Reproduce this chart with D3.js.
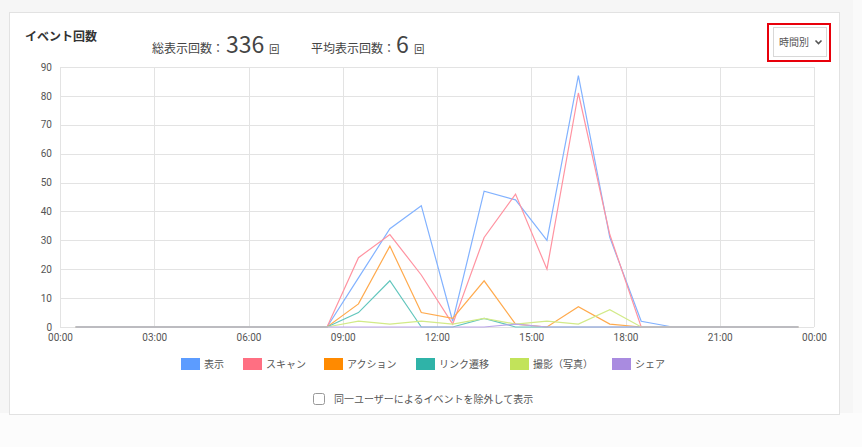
<!DOCTYPE html>
<html>
<head>
<meta charset="utf-8">
<script src="https://cdn.jsdelivr.net/npm/d3@7"></script>
<style>
  body { margin: 0; background: #f6f6f6; font-family: "Noto Sans CJK JP", "Noto Sans", sans-serif; }
  svg { display: block; }
</style>
</head>
<body>
<svg id="chart"></svg>
<script>
// hourly counts, 00時..23時
const hours = d3.range(24);
const seriesNames = ["表示", "スキャン", "アクション", "リンク遷移", "撮影（写真）", "シェア"];
const colors = ["#5c9cff", "#ff6f82", "#ff8a00", "#2fb3a8", "#c2e35a", "#a98be0"];
const lineColors = ["#82b2ff", "#ff93a1", "#ffaa4d", "#62c6bd", "#d2ea88", "#bba6ea"];

const views    = [0,0,0,0,0,0,0,0,0,17,34,42,2,47,44,30,87,31,2,0,0,0,0,0];
const scans    = [0,0,0,0,0,0,0,0,0,24,32,18,1,31,46,20,81,32,0,0,0,0,0,0];
const actions  = [0,0,0,0,0,0,0,0,0,8,28,5,3,16,1,0,7,1,0,0,0,0,0,0];
const links    = [0,0,0,0,0,0,0,0,0,5,16,0,0,3,0,0,0,0,0,0,0,0,0,0];
const photos   = [0,0,0,0,0,0,0,0,0,2,1,2,1,3,1,2,1,6,0,0,0,0,0,0];
const shares   = [0,0,0,0,0,0,0,0,0,0,0,0,0,0,1,0,0,0,0,0,0,0,0,0];
const seriesValues = [views, scans, actions, links, photos, shares];

const yTicks = [0, 10, 20, 30, 40, 50, 60, 70, 80, 90];
const xTicks = [0, 3, 6, 9, 12, 15, 18, 21, 24];
const xTickLabels = ["00:00", "03:00", "06:00", "09:00", "12:00", "15:00", "18:00", "21:00", "00:00"];

const W = 862, H = 447;
const svg = d3.select("#chart").attr("width", W).attr("height", H);

// page background pieces
svg.append("rect").attr("x", 0).attr("y", 413).attr("width", W).attr("height", H - 413).attr("fill", "#fcfcfc");
svg.append("rect").attr("x", 853).attr("y", 0).attr("width", 9).attr("height", 413).attr("fill", "#fafafa");

// card
svg.append("rect")
  .attr("x", 9.5).attr("y", 12.5).attr("width", 830).attr("height", 402)
  .attr("fill", "#fff").attr("stroke", "#e2e2e2");

// header texts
svg.append("text").attr("x", 25).attr("y", 41)
  .attr("font-size", 12).attr("font-weight", "bold").attr("fill", "#333")
  .text("イベント回数");

const summary = svg.append("text").attr("y", 53).attr("fill", "#444");
summary.append("tspan").attr("x", 152).attr("font-size", 12).text("総表示回数：");
summary.append("tspan").attr("x", 226).attr("font-size", 23).text("336");
summary.append("tspan").attr("x", 269).attr("font-size", 10.5).text("回");
summary.append("tspan").attr("x", 311).attr("font-size", 12).text("平均表示回数：");
summary.append("tspan").attr("x", 396).attr("font-size", 23).text("6");
summary.append("tspan").attr("x", 414).attr("font-size", 10.5).text("回");

// dropdown
svg.append("rect").attr("x", 773.5).attr("y", 27.5).attr("width", 53).attr("height", 29)
  .attr("fill", "#fff").attr("stroke", "#d8d8d8");
svg.append("text").attr("x", 779).attr("y", 46).attr("font-size", 10).attr("fill", "#555").text("時間別");
svg.append("path").attr("d", "M815.5,40.5 L818.5,43.5 L821.5,40.5")
  .attr("fill", "none").attr("stroke", "#555").attr("stroke-width", 1.6);
svg.append("rect").attr("x", 768).attr("y", 24).attr("width", 62).attr("height", 37)
  .attr("fill", "none").attr("stroke", "#e8000b").attr("stroke-width", 2);

// scales
const x = d3.scaleLinear().domain([0, 24]).range([60, 814]);
const y = d3.scaleLinear().domain([0, 90]).range([327, 67]);

// grid
const grid = svg.append("g").attr("stroke", "#e3e3e3").attr("stroke-width", 1);
grid.selectAll(".h").data(yTicks).enter().append("line")
  .attr("x1", x(0)).attr("x2", x(24))
  .attr("y1", d => Math.round(y(d)) + 0.5).attr("y2", d => Math.round(y(d)) + 0.5);
grid.selectAll(".v").data(xTicks).enter().append("line")
  .attr("y1", y(90)).attr("y2", y(0))
  .attr("x1", d => Math.round(x(d)) + 0.5).attr("x2", d => Math.round(x(d)) + 0.5);

// axes
const yAxis = svg.append("g")
  .attr("transform", `translate(${x(0)},0)`)
  .call(d3.axisLeft(y).tickValues(yTicks).tickSize(0).tickPadding(8));
yAxis.select(".domain").remove();

const xAxis = svg.append("g")
  .attr("transform", `translate(0,${y(0)})`)
  .call(d3.axisBottom(x).tickValues(xTicks).tickSize(0).tickPadding(7)
    .tickFormat((d, i) => xTickLabels[i]));
xAxis.select(".domain").remove();

svg.selectAll(".tick text")
  .attr("font-family", "Roboto, 'Noto Sans', sans-serif")
  .attr("font-size", 10).attr("fill", "#555");

// lines
const line = d3.line()
  .x((d, i) => x(hours[i] + 0.5))
  .y(d => y(d));

seriesValues.forEach((vals, k) => {
  svg.append("path")
    .datum(vals)
    .attr("fill", "none")
    .attr("stroke", lineColors[k])
    .attr("stroke-width", 1.2)
    .attr("d", line);
});

// legend
const legendX = [181, 243, 324, 416, 510, 612];
const legend = svg.append("g");
seriesNames.forEach((name, k) => {
  legend.append("rect")
    .attr("x", legendX[k]).attr("y", 358).attr("width", 19).attr("height", 12)
    .attr("fill", colors[k]);
  legend.append("text")
    .attr("x", legendX[k] + 23).attr("y", 368)
    .attr("font-size", 10).attr("fill", "#555")
    .text(name);
});

// checkbox
svg.append("rect").attr("x", 313.5).attr("y", 393.5).attr("width", 11).attr("height", 11)
  .attr("rx", 2).attr("fill", "#fff").attr("stroke", "#999");
svg.append("text").attr("x", 334).attr("y", 403)
  .attr("font-size", 10).attr("fill", "#555")
  .text("同一ユーザーによるイベントを除外して表示");
</script>
</body>
</html>
